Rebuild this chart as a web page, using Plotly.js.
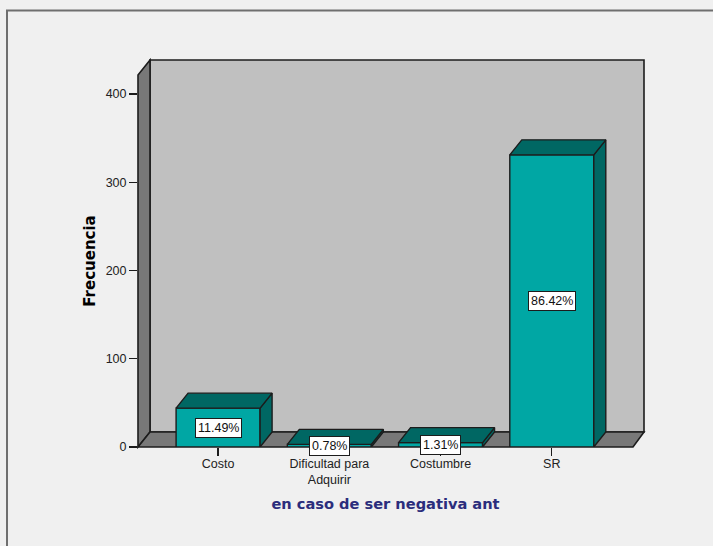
<!DOCTYPE html>
<html>
<head>
<meta charset="utf-8">
<script src="https://cdn.plot.ly/plotly-3.0.1.min.js"></script>
<style>html,body{margin:0;padding:0;background:#f0f0f0;overflow:hidden}</style>
</head>
<body>
<div id="chart" style="width:713px;height:546px"></div>
<script>
const categories = ['Costo', 'Dificultad para<br>Adquirir', 'Costumbre', 'SR'];
const counts = [44, 3, 5, 331];
const percentLabels = ['11.49%', '0.78%', '1.31%', '86.42%'];
const yTicks = [0, 100, 200, 300, 400];

const FRONT = '#00a7a4', SHADE = '#006763', WALL = '#c0c0c0', SIDE = '#787878', INK = '#1c1c1c';
const W = 713, H = 546, L = 138, R = 633, T = 75, B = 447;
const plotW = R - L, plotH = B - T;
const xRange = [-0.72, 3.73], yRange = [0, 421.5];
const DEPTH_X = 12, DEPTH_Y = 15;
const dxU = DEPTH_X * (xRange[1] - xRange[0]) / plotW;
const dyU = DEPTH_Y * (yRange[1] - yRange[0]) / plotH;
const barW = 84 * (xRange[1] - xRange[0]) / plotW;
const idx = categories.map((_, i) => i);

const topX = [], topY = [], sideX = [], sideY = [];
idx.forEach(i => {
  const a = i - barW / 2, b = i + barW / 2, v = counts[i];
  topX.push(a, a + dxU, b + dxU, b, a, null);
  topY.push(v, v + dyU, v + dyU, v, v, null);
  sideX.push(b, b + dxU, b + dxU, b, b, null);
  sideY.push(0, dyU, v + dyU, v, 0, null);
});

const faceLine = {color: INK, width: 1.4};
const traces = [
  {type: 'bar', x: idx, y: counts, width: barW, marker: {color: FRONT, line: faceLine}, hoverinfo: 'skip'},
  {type: 'scatter', mode: 'lines', x: sideX, y: sideY, fill: 'toself', fillcolor: SHADE, line: faceLine, hoverinfo: 'skip', cliponaxis: false},
  {type: 'scatter', mode: 'lines', x: topX, y: topY, fill: 'toself', fillcolor: SHADE, line: faceLine, hoverinfo: 'skip', cliponaxis: false}
];

const px = x => (x - L) / plotW;
const py = y => (B - y) / plotH;
const poly = pts => 'M' + pts.map(p => px(p[0]) + ',' + py(p[1])).join('L') + 'Z';
const wallLine = {color: INK, width: 1.6};
const backL = L + DEPTH_X, backR = R + 11, backB = B - DEPTH_Y, backT = T - DEPTH_Y;
const paperShape = o => Object.assign({xref: 'paper', yref: 'paper', layer: 'below'}, o);
const shapes = [
  paperShape({type: 'path', path: poly([[backL, backT], [backR, backT], [backR, backB], [backL, backB]]), fillcolor: WALL, line: wallLine}),
  paperShape({type: 'path', path: poly([[L, T], [backL, backT], [backL, backB], [L, B]]), fillcolor: SIDE, line: wallLine}),
  paperShape({type: 'path', path: poly([[L, B], [backL, backB], [backR, backB], [R, B]]), fillcolor: SIDE, line: wallLine}),
  paperShape({type: 'path', path: 'M' + px(7) + ',' + py(H + 5) + 'L' + px(7) + ',' + py(10.5) + 'L' + px(W + 5) + ',' + py(10.5), line: {color: '#6f6f6f', width: 2}})
];

const annotations = idx.map(i => ({
  x: i, y: counts[i] / 2, xref: 'x', yref: 'y', text: percentLabels[i], showarrow: false,
  bgcolor: '#ffffff', bordercolor: INK, borderwidth: 1, borderpad: 2,
  font: {family: 'Liberation Sans, Arial, sans-serif', size: 12.5, color: '#111111'}
}));

const layout = {
  width: W, height: H, autosize: false,
  margin: {l: L, r: W - R, t: T, b: H - B, pad: 0},
  paper_bgcolor: '#f0f0f0', plot_bgcolor: 'rgba(0,0,0,0)',
  showlegend: false, bargap: 0,
  font: {family: 'Liberation Sans, Arial, sans-serif', size: 12, color: '#222222'},
  xaxis: {
    type: 'linear', range: xRange, tickmode: 'array', tickvals: idx, ticktext: categories,
    ticks: 'outside', ticklen: 8, tickwidth: 1.4, tickcolor: INK, showgrid: false, zeroline: false, showline: false,
    tickangle: 0, tickfont: {size: 12.5}, ticklabelstandoff: -3,
    title: {text: 'en caso de ser negativa ant', standoff: 12, font: {family: 'DejaVu Sans, Verdana, sans-serif', size: 14.6, color: '#2b2d7c', weight: 'bold'}}
  },
  yaxis: {
    range: yRange, tickmode: 'array', tickvals: yTicks,
    ticks: 'outside', ticklen: 8, tickwidth: 1.4, tickcolor: INK, showgrid: false, zeroline: false, showline: false,
    tickfont: {size: 12.5},
    title: {text: 'Frecuencia', standoff: 6, font: {family: 'DejaVu Sans, Verdana, sans-serif', size: 15, color: '#000000', weight: 'bold'}}
  },
  shapes, annotations
};
Plotly.newPlot('chart', traces, layout, {displayModeBar: false, staticPlot: true});
</script>
</body>
</html>
